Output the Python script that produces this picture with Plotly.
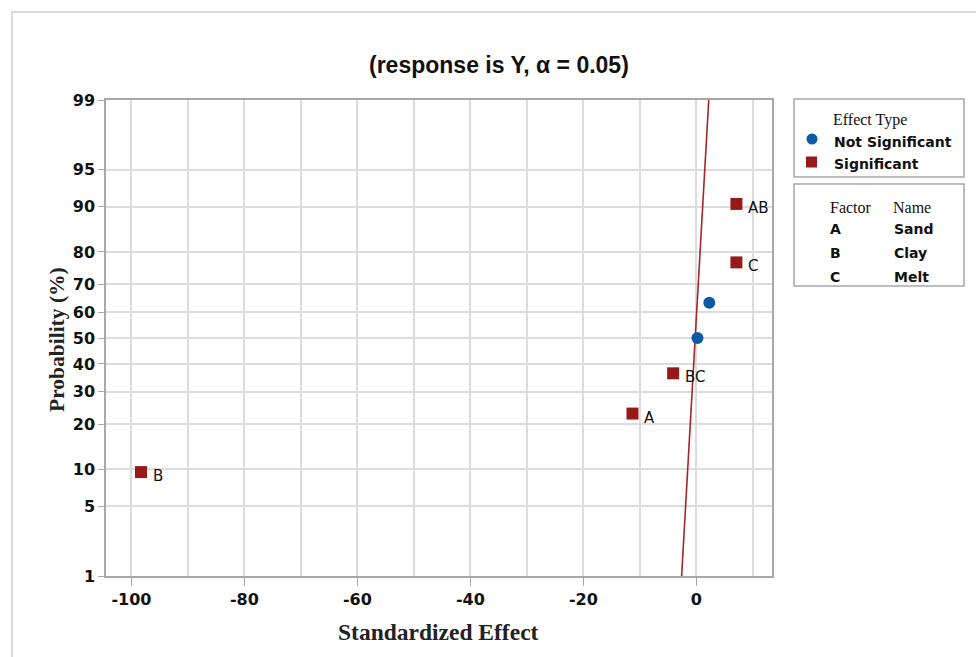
import plotly.graph_objects as go
from statistics import NormalDist

# ---- data ----
effect_names = ["B", "A", "BC", "AC", "ABC", "C", "AB"]
effects = [-98.3, -11.3, -4.1, 0.2, 2.3, 7.1, 7.1]
probs = [9.5, 23.0, 36.5, 50.0, 63.5, 77.0, 90.5]
significant = [True, True, True, False, False, True, True]
point_labels = ["B", "A", "BC", "", "", "C", "AB"]

line_effect = [-2.6, 2.2]
line_prob = [1, 99]

prob_ticks = [1, 5, 10, 20, 30, 40, 50, 60, 70, 80, 90, 95, 99]
x_ticks = [-100, -80, -60, -40, -20, 0]

factors = ["A", "B", "C"]
factor_names = ["Sand", "Clay", "Melt"]

# ---- helpers ----
nd = NormalDist()
def z(p):
    return nd.inv_cdf(p / 100.0)

W, H = 976, 657
L, R, T, B = 106, 772, 100, 576
def px(x):
    return (x - L) / (R - L)
def py(y):
    return (B - y) / (B - T)

RED = "#961a1a"
BLUE = "#0b5aa8"
LINE_RED = "#a3282a"
GRID = "#dcdcdc"
AXIS = "#a8a8a8"

fig = go.Figure()

fig.add_trace(go.Scatter(
    x=line_effect, y=[z(p) for p in line_prob], mode="lines",
    line=dict(color=LINE_RED, width=1.6), showlegend=False, hoverinfo="skip"))

sig_x = [e for e, s in zip(effects, significant) if s]
sig_y = [z(p) for p, s in zip(probs, significant) if s]
ns_x = [e for e, s in zip(effects, significant) if not s]
ns_y = [z(p) for p, s in zip(probs, significant) if not s]

fig.add_trace(go.Scatter(x=ns_x, y=ns_y, mode="markers", name="Not Significant",
                         marker=dict(symbol="circle", size=12, color=BLUE), showlegend=False))
fig.add_trace(go.Scatter(x=sig_x, y=sig_y, mode="markers", name="Significant",
                         marker=dict(symbol="square", size=12, color=RED), showlegend=False))

annotations = []
for e, p, lab in zip(effects, probs, point_labels):
    if lab:
        annotations.append(dict(x=e, y=z(p), xref="x", yref="y", text=lab, showarrow=False,
                                xanchor="left", yanchor="middle", xshift=10, yshift=-4,
                                font=dict(family="DejaVu Sans", size=15, color="#111")))

# title
annotations.append(dict(x=px(499), y=py(65), xref="paper", yref="paper",
                        text="(response is Y, α = 0.05)", showarrow=False,
                        xanchor="center", yanchor="middle",
                        font=dict(family="Liberation Sans Narrow, Liberation Sans, Arial", size=23,
                                  color="#111", weight="bold")))
# axis titles
annotations.append(dict(x=px(57), y=py(340), xref="paper", yref="paper",
                        text="Probability (%)", showarrow=False, textangle=-90,
                        xanchor="center", yanchor="middle",
                        font=dict(family="Liberation Serif", size=21.5, color="#222", weight="bold")))
annotations.append(dict(x=px(438), y=py(632), xref="paper", yref="paper",
                        text="Standardized Effect", showarrow=False,
                        xanchor="center", yanchor="middle",
                        font=dict(family="Liberation Serif", size=23.5, color="#222", weight="bold")))

# legend boxes text
serif = dict(family="Liberation Serif", size=16, color="#111")
bold = dict(family="DejaVu Sans", size=14, color="#111", weight="bold")
annotations.append(dict(x=px(831), y=py(120), xref="paper", yref="paper", text="Effect Type",
                        showarrow=False, xanchor="left", yanchor="middle", font=serif))
annotations.append(dict(x=px(832), y=py(142), xref="paper", yref="paper", text="Not Significant",
                        showarrow=False, xanchor="left", yanchor="middle", font=bold))
annotations.append(dict(x=px(832), y=py(164), xref="paper", yref="paper", text="Significant",
                        showarrow=False, xanchor="left", yanchor="middle", font=bold))
annotations.append(dict(x=px(828), y=py(207), xref="paper", yref="paper", text="Factor",
                        showarrow=False, xanchor="left", yanchor="middle", font=serif))
annotations.append(dict(x=px(891), y=py(207), xref="paper", yref="paper", text="Name",
                        showarrow=False, xanchor="left", yanchor="middle", font=serif))
for i, (f, n) in enumerate(zip(factors, factor_names)):
    yy = 229 + i * 24
    annotations.append(dict(x=px(828), y=py(yy), xref="paper", yref="paper", text=f,
                            showarrow=False, xanchor="left", yanchor="middle", font=bold))
    annotations.append(dict(x=px(892), y=py(yy), xref="paper", yref="paper", text=n,
                            showarrow=False, xanchor="left", yanchor="middle", font=bold))

shapes = [
    # outer frame
    dict(type="rect", xref="paper", yref="paper", x0=px(12), x1=px(1000), y0=py(12), y1=py(700),
         line=dict(color="#cfcfcf", width=1.5), fillcolor="rgba(0,0,0,0)", layer="below"),
    # legend boxes
    dict(type="rect", xref="paper", yref="paper", x0=px(794), x1=px(964), y0=py(99), y1=py(177),
         line=dict(color="#a8a8a8", width=1.5)),
    dict(type="rect", xref="paper", yref="paper", x0=px(794), x1=px(964), y0=py(184), y1=py(286),
         line=dict(color="#a8a8a8", width=1.5)),
    # legend symbols
    dict(type="circle", xref="paper", yref="paper", x0=px(806.5), x1=px(817.5), y0=py(133.5), y1=py(144.5),
         line=dict(width=0), fillcolor=BLUE),
    dict(type="rect", xref="paper", yref="paper", x0=px(806), x1=px(817), y0=py(156.5), y1=py(167.5),
         line=dict(width=0), fillcolor=RED),
]

fig.update_layout(
    width=W, height=H,
    margin=dict(l=L, r=W - R, t=T, b=H - B),
    paper_bgcolor="white", plot_bgcolor="white",
    annotations=annotations, shapes=shapes, showlegend=False,
    xaxis=dict(range=[-104.5, 13.4], tickvals=x_ticks, ticktext=[str(v) for v in x_ticks],
               showgrid=True, gridcolor=GRID, gridwidth=1.5,
               minor=dict(tickvals=list(range(-100, 20, 10)), showgrid=True, gridcolor=GRID, gridwidth=1.5, ticks=""),
               ticks="outside", ticklen=8, tickcolor=AXIS, tickwidth=1,
               showline=True, linecolor=AXIS, linewidth=1.5, mirror=True, zeroline=False,
               tickfont=dict(family="DejaVu Sans", size=16, color="#111", weight="bold")),
    yaxis=dict(range=[z(1), z(99)], tickvals=[z(p) for p in prob_ticks],
               ticktext=[str(p) for p in prob_ticks],
               showgrid=True, gridcolor=GRID, gridwidth=1.5,
               ticks="outside", ticklen=6, tickcolor=AXIS, tickwidth=1,
               showline=True, linecolor=AXIS, linewidth=1.5, mirror=True, zeroline=False,
               tickfont=dict(family="DejaVu Sans", size=16, color="#111", weight="bold")),
)

fig.write_html("out.html")
